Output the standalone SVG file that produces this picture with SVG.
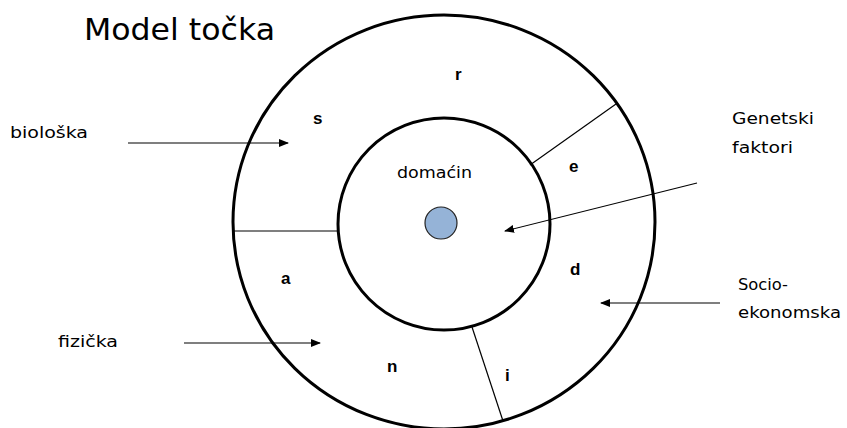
<svg xmlns="http://www.w3.org/2000/svg" width="847" height="428" viewBox="0 0 847 428">
<style>
.lbl{font-family:"DejaVu Sans","Liberation Sans",sans-serif;font-size:16px;fill:#000}
.let{font-family:"Liberation Sans",Arial,sans-serif;font-size:17px;font-weight:bold;fill:#000}
.ring{fill:none;stroke:#000;stroke-width:3}
.thin{stroke:#000;stroke-width:1.2;fill:none}
</style>
<defs>
<marker id="ah" markerWidth="10" markerHeight="8" refX="9" refY="4" orient="auto" markerUnits="userSpaceOnUse">
<path d="M0,0 L10,4 L0,8 Z" fill="#000"/>
</marker>
</defs>
<rect width="847" height="428" fill="#fff"/>
<text x="84" y="40" font-family="DejaVu Sans,Liberation Sans,sans-serif" font-size="31" textLength="191" lengthAdjust="spacingAndGlyphs">Model točka</text>
<g id="outer"><ellipse class="ring" cx="444" cy="222" rx="211" ry="207"/></g>
<g id="host">
<circle class="ring" cx="444" cy="224" r="106"/>
<circle cx="441" cy="223" r="16" fill="#95b3d7" stroke="#222" stroke-width="1.2"/>
<text class="lbl" x="397" y="178" textLength="75" lengthAdjust="spacingAndGlyphs">domaćin</text>
</g>
<g id="dividers">
<line class="thin" x1="233" y1="231" x2="338" y2="231"/>
<line class="thin" x1="530" y1="165" x2="616" y2="104"/>
<line class="thin" x1="472" y1="327" x2="503" y2="421"/>
</g>
<g id="letters">
<text class="let" x="455" y="80">r</text>
<text class="let" x="313" y="124">s</text>
<text class="let" x="569" y="172">e</text>
<text class="let" x="570" y="275">d</text>
<text class="let" x="281" y="284">a</text>
<text class="let" x="387" y="372">n</text>
<text class="let" x="505" y="381">i</text>
</g>
<g id="labels">
<text class="lbl" x="10" y="138" textLength="78" lengthAdjust="spacingAndGlyphs">biološka</text>
<text class="lbl" x="58" y="347" textLength="60" lengthAdjust="spacingAndGlyphs">fizička</text>
<text class="lbl" x="732" y="124" textLength="82" lengthAdjust="spacingAndGlyphs">Genetski</text>
<text class="lbl" x="732" y="153" textLength="61" lengthAdjust="spacingAndGlyphs">faktori</text>
<text class="lbl" x="738" y="290" textLength="50" lengthAdjust="spacingAndGlyphs">Socio-</text>
<text class="lbl" x="738" y="318" textLength="103" lengthAdjust="spacingAndGlyphs">ekonomska</text>
</g>
<g id="connectors">
<line class="thin" x1="128" y1="143" x2="288" y2="143" marker-end="url(#ah)"/>
<line class="thin" x1="184" y1="343" x2="320" y2="343" marker-end="url(#ah)"/>
<line class="thin" x1="720" y1="303" x2="601" y2="303" marker-end="url(#ah)"/>
<line class="thin" x1="697" y1="183" x2="505" y2="231" marker-end="url(#ah)"/>
</g>
</svg>
